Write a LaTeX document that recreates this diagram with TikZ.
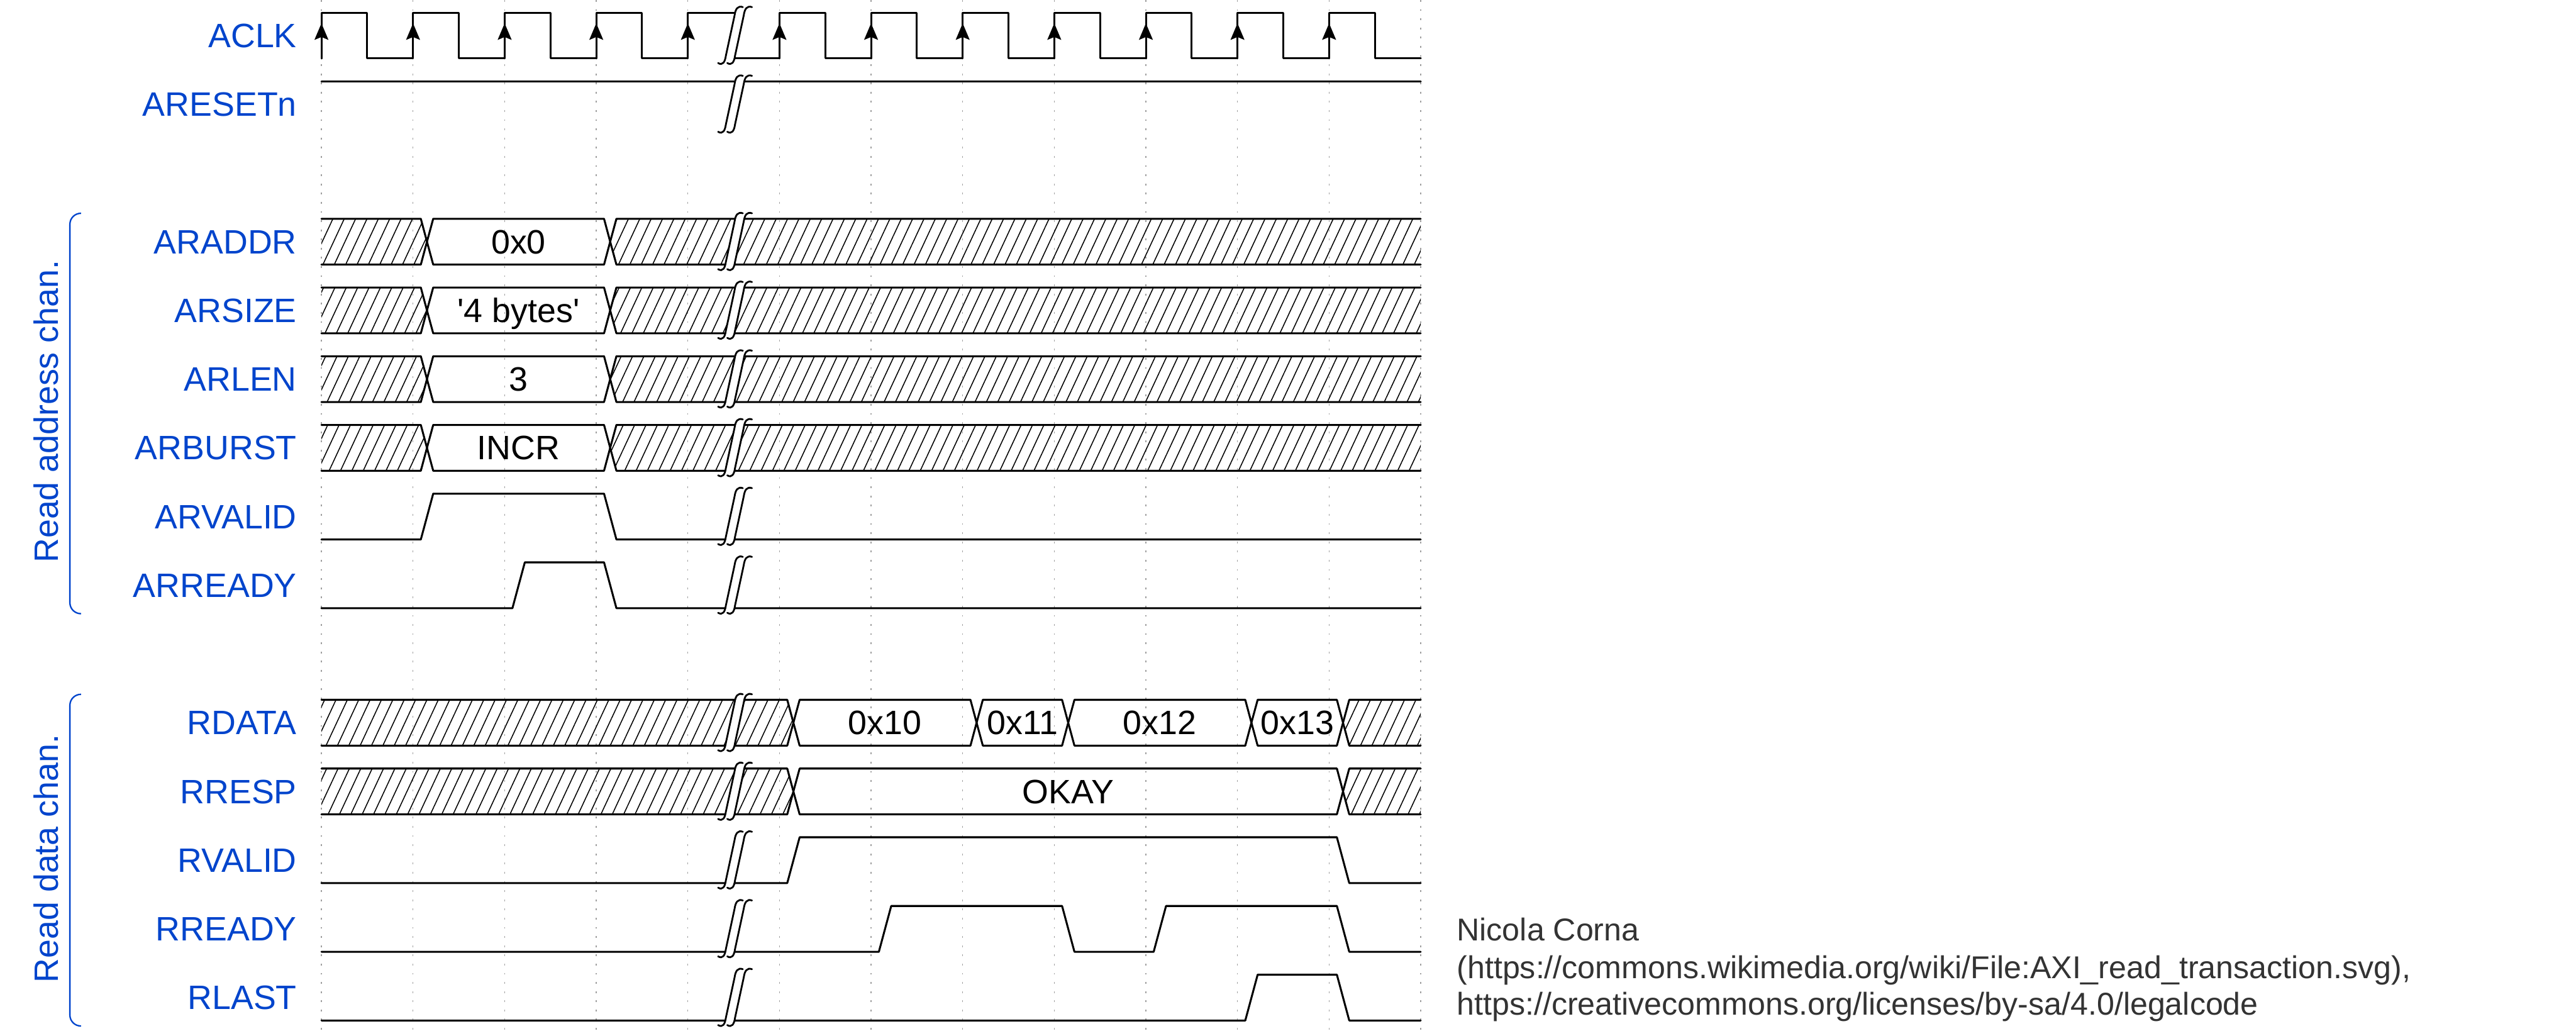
\documentclass[tikz,border=0pt]{standalone}
\usepackage{fontspec}
\setmainfont{Liberation Sans}
\usepackage{tikz}
\usetikzlibrary{arrows.meta, patterns.meta}
\usepackage{xcolor}
\definecolor{labelblue}{HTML}{0044CC}
\definecolor{gridgray}{HTML}{A0A0A0}
\definecolor{creditgray}{HTML}{333333}

\begin{document}
\begin{tikzpicture}[
    >=Stealth,
    % Estilos de etiquetas
    siglabel/.style={
        anchor=east,
        inner sep=0pt,
        text height=2.6mm,
        text depth=0pt,
        text=labelblue,
        font=\fontsize{10.5}{12}\selectfont
    },
    chanlabel/.style={
        rotate=90,
        anchor=base,
        inner sep=0pt,
        text=labelblue,
        font=\fontsize{10.5}{12}\selectfont
    },
    chanbracket/.style={
        draw=labelblue,
        line width=0.45pt,
        rounded corners=1.2mm
    },
    busval/.style={
        inner sep=0pt,
        text height=2.6mm,
        text depth=0pt,
        font=\fontsize{10.5}{12}\selectfont
    },
    credit/.style={
        anchor=base west,
        inner sep=0pt,
        text=creditgray,
        font=\fontsize{9.8}{11.6}\selectfont
    },
    % Estilos de formas de onda
    wave/.style={
        draw=black,
        line width=0.6pt,
        line join=round,
        line cap=round
    },
    hatch/.style={
        pattern={Lines[angle=65, distance=3.2pt, line width=0.3pt]}
    },
    clkedge/.style={
        -{Stealth[length=1.8mm, width=1.5mm, inset=0.3mm]},
        line width=0.6pt,
        line cap=round
    },
    gridline/.style={
        draw=gridgray,
        line width=0.25pt,
        dash pattern=on 0.55pt off 2.3pt
    },
    brkline/.style={
        draw=black,
        line width=0.55pt,
        line cap=round
    },
    % Corte de tiempo (doble S)
    brk/.pic={
        \fill[white] (-0.185,-0.30) .. controls (-0.135,-0.33) and (-0.11,-0.29) .. (-0.10,-0.22)
            -- (-0.005,0.22) .. controls (0.005,0.29) and (0.03,0.33) .. (0.085,0.31)
            -- (0.185,0.31) .. controls (0.13,0.33) and (0.105,0.29) .. (0.095,0.22)
            -- (0.0,-0.22) .. controls (-0.01,-0.29) and (-0.035,-0.33) .. (-0.085,-0.30) -- cycle;
        \draw[brkline] (-0.185,-0.30) .. controls (-0.135,-0.33) and (-0.11,-0.29) .. (-0.10,-0.22)
            -- (-0.005,0.22) .. controls (0.005,0.29) and (0.03,0.33) .. (0.085,0.31);
        \draw[brkline] (-0.085,-0.30) .. controls (-0.035,-0.33) and (-0.01,-0.29) .. (0.0,-0.22)
            -- (0.095,0.22) .. controls (0.105,0.29) and (0.13,0.33) .. (0.185,0.31);
    }
]

    \useasboundingbox (0,0) rectangle (28.121,-11.246);

    % ==========================================
    % 0. REJILLA DE CICLOS
    % ==========================================
    \begin{scope}[xshift=3.509cm]
        \foreach \k in {0,...,12}
            \draw[gridline] (\k,0) -- (\k,-11.246);
    \end{scope}

    % ==========================================
    % 1. NOMBRES DE SEÑALES (Izquierda)
    % ==========================================
    \foreach \y/\name/\tag in {-0.388/ACLK/aclk, -1.138/ARESETn/aresetn,
                               -2.638/ARADDR/araddr, -3.388/ARSIZE/arsize,
                               -4.138/ARLEN/arlen, -4.888/ARBURST/arburst,
                               -5.638/ARVALID/arvalid, -6.388/ARREADY/arready,
                               -7.888/RDATA/rdata, -8.638/RRESP/rresp,
                               -9.388/RVALID/rvalid, -10.138/RREADY/rready,
                               -10.888/RLAST/rlast}
        \node[siglabel] (\tag) at (3.246,\y) {\name};

    % Canales (corchetes)
    \draw[chanbracket] (0.884,-2.328) -- (0.763,-2.328) -- (0.763,-6.698) -- (0.884,-6.698);
    \node[chanlabel] (addrchan) at (0.634,-4.491) {Read address chan.};

    \draw[chanbracket] (0.884,-7.578) -- (0.763,-7.578) -- (0.763,-11.198) -- (0.884,-11.198);
    \node[chanlabel] (datachan) at (0.634,-9.371) {Read data chan.};

    % ==========================================
    % 2. RELOJ Y RESET
    % ==========================================
    \begin{scope}[shift={(3.509,-0.388)}]
        \draw[wave] (0,-0.25)
            \foreach \t in {0,...,3} { -- (\t,0.25) -- ({\t+0.5},0.25) -- ({\t+0.5},-0.25) -- ({\t+1},-0.25) }
            -- (4,0.25) -- (4.56,0.25)
            (4.47,-0.25) -- (5,-0.25)
            \foreach \t in {5,...,11} { -- (\t,0.25) -- ({\t+0.5},0.25) -- ({\t+0.5},-0.25) -- ({\t+1},-0.25) };
        \foreach \t in {0,...,11}
            \draw[clkedge] (\t,-0.25) -- (\t,0.134);
        \pic at (4.515,0) {brk};
    \end{scope}

    \begin{scope}[shift={(3.509,-1.138)}]
        \draw[wave] (0,0.25) -- (12,0.25);
        \pic at (4.515,0) {brk};
    \end{scope}

    % ==========================================
    % 3. CANAL DE DIRECCION (AR)
    % ==========================================
    \foreach \y/\val/\tag in {-2.638/0x0/addrval, -3.388/{\textquotesingle 4 bytes\textquotesingle}/sizeval,
                              -4.138/3/lenval, -4.888/INCR/burstval} {
        \begin{scope}[shift={(3.509,\y)}]
            \fill[hatch] (0,0.25) -- (1.085,0.25) -- (1.152,0) -- (1.085,-0.25) -- (0,-0.25) -- cycle;
            \fill[hatch] (12,0.25) -- (3.22,0.25) -- (3.152,0) -- (3.22,-0.25) -- (12,-0.25) -- cycle;
            \draw[wave] (0,0.25) -- (1.085,0.25) -- (1.152,0) -- (1.085,-0.25) -- (0,-0.25);
            \draw[wave] (1.152,0) -- (1.22,0.25) -- (3.085,0.25) -- (3.152,0) -- (3.085,-0.25) -- (1.22,-0.25) -- cycle;
            \draw[wave] (12,0.25) -- (3.22,0.25) -- (3.152,0) -- (3.22,-0.25) -- (12,-0.25);
            \node[busval] (\tag) at (2.152,0) {\val};
            \pic at (4.515,0) {brk};
        \end{scope}
    }

    % ARVALID
    \begin{scope}[shift={(3.509,-5.638)}]
        \draw[wave] (0,-0.25) -- (1.085,-0.25) -- (1.22,0.25) -- (3.085,0.25) -- (3.22,-0.25) -- (12,-0.25);
        \pic at (4.515,0) {brk};
    \end{scope}

    % ARREADY
    \begin{scope}[shift={(3.509,-6.388)}]
        \draw[wave] (0,-0.25) -- (2.085,-0.25) -- (2.22,0.25) -- (3.085,0.25) -- (3.22,-0.25) -- (12,-0.25);
        \pic at (4.515,0) {brk};
    \end{scope}

    % ==========================================
    % 4. CANAL DE DATOS (R)
    % ==========================================
    % RDATA
    \begin{scope}[shift={(3.509,-7.888)}]
        \fill[hatch] (0,0.25) -- (5.085,0.25) -- (5.152,0) -- (5.085,-0.25) -- (0,-0.25) -- cycle;
        \fill[hatch] (12,0.25) -- (11.22,0.25) -- (11.152,0) -- (11.22,-0.25) -- (12,-0.25) -- cycle;
        \draw[wave] (0,0.25) -- (5.085,0.25) -- (5.152,0) -- (5.085,-0.25) -- (0,-0.25);
        \draw[wave] (12,0.25) -- (11.22,0.25) -- (11.152,0) -- (11.22,-0.25) -- (12,-0.25);
        \foreach \a/\b/\val/\tag in {5/7/0x10/d10, 7/8/0x11/d11, 8/10/0x12/d12, 10/11/0x13/d13} {
            \draw[wave] ({\a+0.152},0) -- ({\a+0.22},0.25) -- ({\b+0.085},0.25) -- ({\b+0.152},0)
                -- ({\b+0.085},-0.25) -- ({\a+0.22},-0.25) -- cycle;
            \node[busval] (\tag) at ({(\a+\b)/2+0.152},0) {\val};
        }
        \pic at (4.515,0) {brk};
    \end{scope}

    % RRESP
    \begin{scope}[shift={(3.509,-8.638)}]
        \fill[hatch] (0,0.25) -- (5.085,0.25) -- (5.152,0) -- (5.085,-0.25) -- (0,-0.25) -- cycle;
        \fill[hatch] (12,0.25) -- (11.22,0.25) -- (11.152,0) -- (11.22,-0.25) -- (12,-0.25) -- cycle;
        \draw[wave] (0,0.25) -- (5.085,0.25) -- (5.152,0) -- (5.085,-0.25) -- (0,-0.25);
        \draw[wave] (5.152,0) -- (5.22,0.25) -- (11.085,0.25) -- (11.152,0) -- (11.085,-0.25) -- (5.22,-0.25) -- cycle;
        \draw[wave] (12,0.25) -- (11.22,0.25) -- (11.152,0) -- (11.22,-0.25) -- (12,-0.25);
        \node[busval] (okay) at (8.152,0) {OKAY};
        \pic at (4.515,0) {brk};
    \end{scope}

    % RVALID
    \begin{scope}[shift={(3.509,-9.388)}]
        \draw[wave] (0,-0.25) -- (5.085,-0.25) -- (5.22,0.25) -- (11.085,0.25) -- (11.22,-0.25) -- (12,-0.25);
        \pic at (4.515,0) {brk};
    \end{scope}

    % RREADY
    \begin{scope}[shift={(3.509,-10.138)}]
        \draw[wave] (0,-0.25) -- (6.085,-0.25) -- (6.22,0.25) -- (8.085,0.25) -- (8.22,-0.25)
            -- (9.085,-0.25) -- (9.22,0.25) -- (11.085,0.25) -- (11.22,-0.25) -- (12,-0.25);
        \pic at (4.515,0) {brk};
    \end{scope}

    % RLAST
    \begin{scope}[shift={(3.509,-10.888)}]
        \draw[wave] (0,-0.25) -- (10.085,-0.25) -- (10.22,0.25) -- (11.085,0.25) -- (11.22,-0.25) -- (12,-0.25);
        \pic at (4.515,0) {brk};
    \end{scope}

    % ==========================================
    % 5. AUTORIA (Derecha abajo)
    % ==========================================
    \node[credit] (credit1) at (15.897,-10.268) {Nicola Corna};
    \node[credit] (credit2) at (15.897,-10.679) {(https://commons.wikimedia.org/wiki/File:AXI\_read\_transaction.svg),};
    \node[credit] (credit3) at (15.897,-11.080) {https://creativecommons.org/licenses/by-sa/4.0/legalcode};

\end{tikzpicture}
\end{document}
